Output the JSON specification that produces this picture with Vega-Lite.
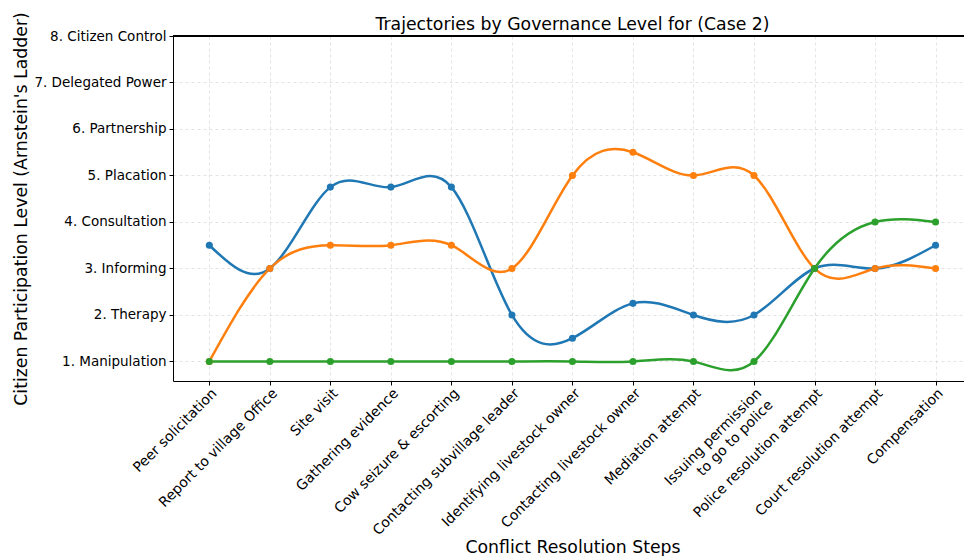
{
  "$schema": "https://vega.github.io/schema/vega-lite/v6.json",
  "width": 791,
  "height": 345,
  "autosize": {"type": "none"},
  "padding": {"left": 173, "top": 36, "right": 0, "bottom": 175},
  "background": "white",
  "title": {
    "text": "Trajectories by Governance Level for (Case 2)",
    "font": "DejaVu Sans",
    "fontSize": 17.3,
    "fontWeight": "normal",
    "color": "black",
    "anchor": "middle",
    "frame": "group",
    "dx": 4,
    "dy": 28,
    "offset": 6
  },
  "config": {
    "view": {"stroke": null},
    "axis": {
      "labelFont": "DejaVu Sans",
      "labelFontSize": 13.5,
      "labelColor": "black",
      "labelLimit": 0,
      "tickColor": "black",
      "tickSize": 4,
      "domainColor": "black",
      "domainWidth": 1,
      "titleFont": "DejaVu Sans",
      "titleFontSize": 17.3,
      "titleFontWeight": "normal",
      "titleColor": "black",
      "grid": true,
      "gridColor": "#dcdcdc",
      "gridDash": [3, 3],
      "gridWidth": 0.8
    }
  },
  "data": {
    "values": [
      {"step": 0, "series": "Level A", "level": 3.5},
      {"step": 1, "series": "Level A", "level": 3},
      {"step": 2, "series": "Level A", "level": 4.75},
      {"step": 3, "series": "Level A", "level": 4.75},
      {"step": 4, "series": "Level A", "level": 4.75},
      {"step": 5, "series": "Level A", "level": 2},
      {"step": 6, "series": "Level A", "level": 1.5},
      {"step": 7, "series": "Level A", "level": 2.25},
      {"step": 8, "series": "Level A", "level": 2},
      {"step": 9, "series": "Level A", "level": 2},
      {"step": 10, "series": "Level A", "level": 3},
      {"step": 11, "series": "Level A", "level": 3},
      {"step": 12, "series": "Level A", "level": 3.5},
      {"step": 0, "series": "Level B", "level": 1},
      {"step": 1, "series": "Level B", "level": 3},
      {"step": 2, "series": "Level B", "level": 3.5},
      {"step": 3, "series": "Level B", "level": 3.5},
      {"step": 4, "series": "Level B", "level": 3.5},
      {"step": 5, "series": "Level B", "level": 3},
      {"step": 6, "series": "Level B", "level": 5},
      {"step": 7, "series": "Level B", "level": 5.5},
      {"step": 8, "series": "Level B", "level": 5},
      {"step": 9, "series": "Level B", "level": 5},
      {"step": 10, "series": "Level B", "level": 3},
      {"step": 11, "series": "Level B", "level": 3},
      {"step": 12, "series": "Level B", "level": 3},
      {"step": 0, "series": "Level C", "level": 1},
      {"step": 1, "series": "Level C", "level": 1},
      {"step": 2, "series": "Level C", "level": 1},
      {"step": 3, "series": "Level C", "level": 1},
      {"step": 4, "series": "Level C", "level": 1},
      {"step": 5, "series": "Level C", "level": 1},
      {"step": 6, "series": "Level C", "level": 1},
      {"step": 7, "series": "Level C", "level": 1},
      {"step": 8, "series": "Level C", "level": 1},
      {"step": 9, "series": "Level C", "level": 1},
      {"step": 10, "series": "Level C", "level": 3},
      {"step": 11, "series": "Level C", "level": 4},
      {"step": 12, "series": "Level C", "level": 4}
    ]
  },
  "encoding": {
    "x": {
      "field": "step",
      "type": "quantitative",
      "scale": {"domain": [-0.6, 12.47], "nice": false, "zero": false},
      "axis": {
        "title": "Conflict Resolution Steps",
        "values": [0, 1, 2, 3, 4, 5, 6, 7, 8, 9, 10, 11, 12],
        "labelAngle": -45,
        "labelAlign": "right",
        "labelBaseline": "top",
        "labelFontSize": 14,
        "labelPadding": 1,
        "labelFlush": false,
        "labelOverlap": false,
        "labelBound": false,
        "titleX": 399.5,
        "titleY": 171,
        "titleBaseline": "alphabetic",
        "labelExpr": "datum.value == 9 ? ['Issuing permission', 'to go to police'] : ['Peer solicitation', 'Report to village Office', 'Site visit', 'Gathering evidence', 'Cow seizure & escorting', 'Contacting subvillage leader', 'Identifying livestock owner', 'Contacting livestock owner', 'Mediation attempt', '', 'Police resolution attempt', 'Court resolution attempt', 'Compensation'][datum.value]"
      }
    },
    "y": {
      "field": "level",
      "type": "quantitative",
      "scale": {"domain": [0.58, 8], "nice": false, "zero": false},
      "axis": {
        "title": "Citizen Participation Level (Arnstein's Ladder)",
        "values": [1, 2, 3, 4, 5, 6, 7, 8],
        "labelPadding": 3,
        "titlePadding": 3,
        "labelExpr": "['', '1. Manipulation', '2. Therapy', '3. Informing', '4. Consultation', '5. Placation', '6. Partnership', '7. Delegated Power', '8. Citizen Control'][datum.value]"
      }
    },
    "color": {
      "field": "series",
      "type": "nominal",
      "scale": {"domain": ["Level A", "Level B", "Level C"], "range": ["#1f77b4", "#ff7f0e", "#2ca02c"]},
      "legend": null
    }
  },
  "layer": [
    {
      "mark": {"type": "rule", "color": "black", "strokeWidth": 1},
      "encoding": {"y": {"datum": 8}, "x": null, "color": null}
    },
    {
      "mark": {"type": "line", "interpolate": "natural", "strokeWidth": 2.5}
    },
    {
      "mark": {"type": "point", "filled": true, "size": 50, "opacity": 1}
    }
  ]
}
